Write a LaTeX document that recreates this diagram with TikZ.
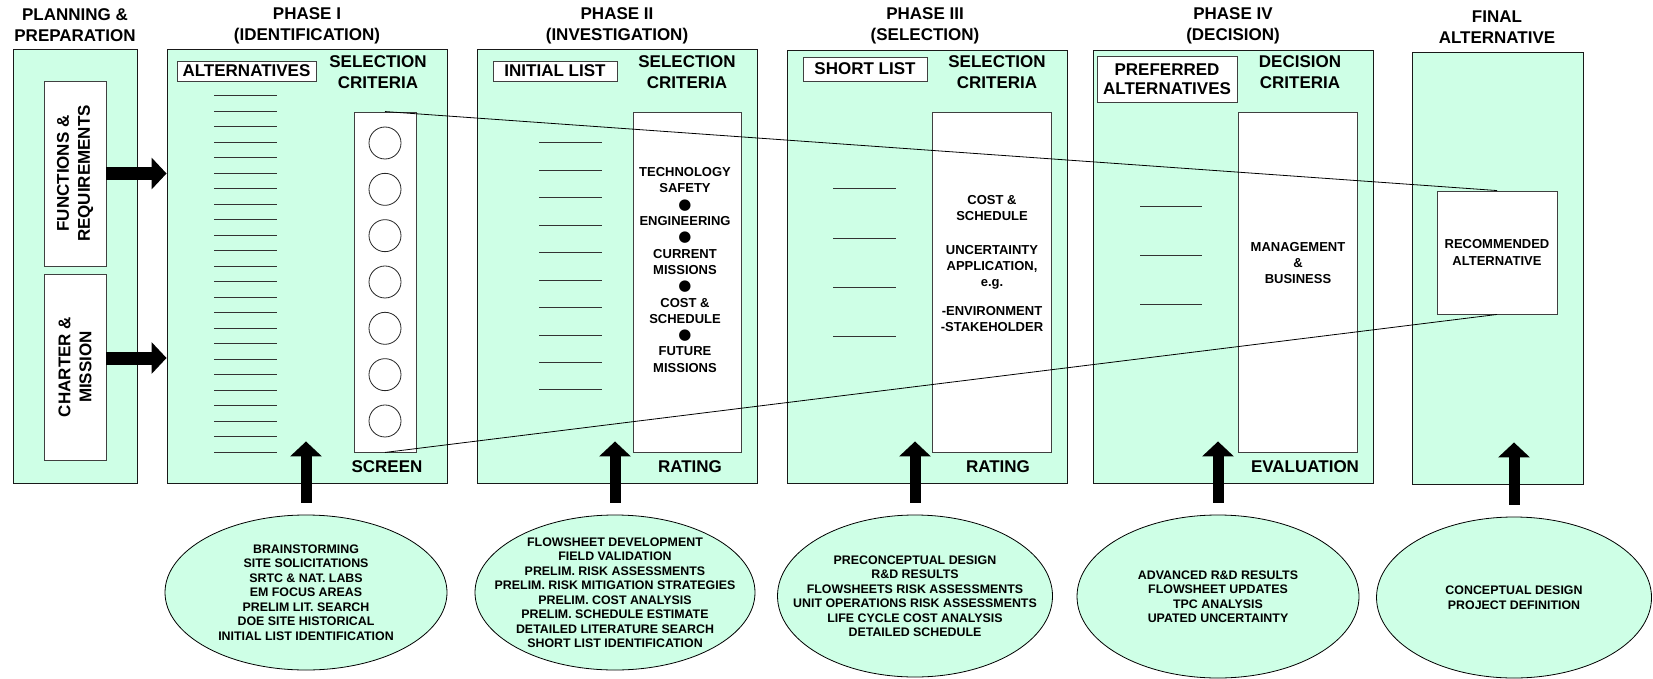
\documentclass[tikz,border=0pt]{standalone}
\usepackage{fontspec}
\setmainfont{Liberation Sans}
\newfontfamily\dotfont{DejaVu Sans}
\usetikzlibrary{shapes.geometric,arrows.meta,calc}
\definecolor{mint}{RGB}{206,255,230}

\begin{document}
\begin{tikzpicture}[x=1pt,y=-1pt,
    frame/.style={draw=black!90, line width=0.9pt, fill=mint, inner sep=0pt},
    card/.style={draw=black!75, line width=0.9pt, fill=white, inner sep=0pt},
    head/.style={font=\bfseries\fontsize{17}{21}\selectfont, align=center, inner sep=0pt},
    small/.style={font=\bfseries\fontsize{13}{16.3}\selectfont, align=center, inner sep=0pt},
    source/.style={ellipse, draw=black, line width=0.8pt, fill=mint, inner sep=0pt},
    srctext/.style={font=\bfseries\fontsize{12.4}{14.5}\selectfont, align=center, inner sep=0pt},
    entry/.style={line width=1pt, black!80},
    fatarrow/.style={line width=13pt, -{Triangle[width=31pt,length=15pt]}},
    liftarrow/.style={line width=11pt, -{Triangle[width=31pt,length=15pt]}}]
    \useasboundingbox (0,0) rectangle (1653,679);

    % phase frames
    \node[frame, minimum width=124pt, minimum height=434pt] (plan) at (75,266) {};
    \node[frame, minimum width=280pt, minimum height=434pt] (ph1) at (307,266) {};
    \node[frame, minimum width=280pt, minimum height=434pt] (ph2) at (617,266) {};
    \node[frame, minimum width=280pt, minimum height=433pt] (ph3) at (927,266.5) {};
    \node[frame, minimum width=280pt, minimum height=433pt] (ph4) at (1233,266.5) {};
    \node[frame, minimum width=171pt, minimum height=432pt] (fin) at (1497.5,268) {};

    \node[head] (t0) at (75,25.5) {PLANNING \&\\PREPARATION};
    \node[head] (t1) at (307,25.5) {PHASE I\\(IDENTIFICATION)};
    \node[head] (t2) at (617,25.5) {PHASE II\\(INVESTIGATION)};
    \node[head] (t3) at (925,25.5) {PHASE III\\(SELECTION)};
    \node[head] (t4) at (1233,25.5) {PHASE IV\\(DECISION)};
    \node[head] (t5) at (1497,27) {FINAL\\ALTERNATIVE};

    % planning inputs (rotated, so .south is the right side)
    \node[card, head, rotate=90, minimum width=185pt, minimum height=62pt] (fr) at (75,173.5) {FUNCTIONS \&\\REQUIREMENTS};
    \node[card, head, rotate=90, minimum width=186pt, minimum height=62pt] (cm) at (75,367) {CHARTER \&\\MISSION};

    % list labels
    \node[card, head, minimum width=139pt, minimum height=20pt] (alt) at (246.5,71) {ALTERNATIVES};
    \node[card, head, minimum width=124pt, minimum height=20pt] (ini) at (555,71) {INITIAL LIST};
    \node[card, head, minimum width=124pt, minimum height=24pt] (sho) at (865,69) {SHORT LIST};
    \node[card, head, minimum width=140pt, minimum height=46pt, font=\bfseries\fontsize{17}{19}\selectfont] (pre) at (1167,79) {PREFERRED\\ALTERNATIVES};

    \node[head] (sc1) at (378,72.5) {SELECTION\\CRITERIA};
    \node[head] (sc2) at (687,72.5) {SELECTION\\CRITERIA};
    \node[head] (sc3) at (997,72.5) {SELECTION\\CRITERIA};
    \node[head] (dc4) at (1300,72.5) {DECISION\\CRITERIA};

    % criteria cards
    \node[card, minimum width=62pt, minimum height=340pt] (crit1) at (385,282) {};
    \node[card, minimum width=108pt, minimum height=340pt] (crit2) at (687,282) {};
    \node[card, minimum width=119pt, minimum height=340pt] (crit3) at (991.5,282) {};
    \node[card, minimum width=119pt, minimum height=340pt] (crit4) at (1297.5,282) {};

    \foreach \k in {0,...,6}
        \draw[black!85, line width=0.8pt] (385,{143+46.33*\k}) circle (16pt);
    \foreach \k in {0,...,23}
        \draw[entry] (214,{96+15.48*\k}) -- (277,{96+15.48*\k});
    \foreach \k in {0,...,9}
        \draw[entry] (539,{143+27.44*\k}) -- (602,{143+27.44*\k});
    \foreach \k in {0,...,3}
        \draw[entry] (833,{189+49*\k}) -- (896,{189+49*\k});
    \foreach \k in {0,...,2}
        \draw[entry] (1140,{206+49*\k}) -- (1202,{206+49*\k});

    \node[small] (crt2) at (685,270) {TECHNOLOGY\\SAFETY\\{\dotfont\fontsize{15}{15}\selectfont ●}\\ENGINEERING\\{\dotfont\fontsize{15}{15}\selectfont ●}\\CURRENT\\MISSIONS\\{\dotfont\fontsize{15}{15}\selectfont ●}\\COST \&\\SCHEDULE\\{\dotfont\fontsize{15}{15}\selectfont ●}\\FUTURE\\MISSIONS};
    \node[small] (crt3) at (992,263.5) {COST \&\\SCHEDULE\\[17pt]UNCERTAINTY\\APPLICATION,\\e.g.\\[12pt]-ENVIRONMENT\\-STAKEHOLDER};
    \node[small, font=\bfseries\fontsize{13}{16}\selectfont] (crt4) at (1298,263) {MANAGEMENT\\\&\\BUSINESS};

    \node[head] (scr) at (387,467) {SCREEN};
    \node[head] (rat2) at (690,467) {RATING};
    \node[head] (rat3) at (998,467) {RATING};
    \node[head] (eva) at (1305,467) {EVALUATION};

    \node[card, minimum width=120pt, minimum height=123pt, small, font=\bfseries\fontsize{13}{17}\selectfont] (rec) at (1497,252.5) {RECOMMENDED\\ALTERNATIVE};

    % funnel
    \draw[line width=0.8pt] (crit1.north) -- (rec.north);
    \draw[line width=0.8pt] (crit1.south) -- (rec.south);

    % sources
    \node[source, minimum width=282pt, minimum height=155pt] (src1) at (306,592.5) {};
    \node[source, minimum width=280pt, minimum height=155pt] (src2) at (615,592.5) {};
    \node[source, minimum width=275pt, minimum height=162pt] (src3) at (915,596) {};
    \node[source, minimum width=282pt, minimum height=163pt] (src4) at (1218,596.5) {};
    \node[source, minimum width=275pt, minimum height=161pt] (src5) at (1514,597.5) {};

    \node[srctext] (lst1) at (src1) {BRAINSTORMING\\SITE SOLICITATIONS\\SRTC \& NAT. LABS\\EM FOCUS AREAS\\PRELIM LIT. SEARCH\\DOE SITE HISTORICAL\\INITIAL LIST IDENTIFICATION};
    \node[srctext] (lst2) at (src2) {FLOWSHEET DEVELOPMENT\\FIELD VALIDATION\\PRELIM. RISK ASSESSMENTS\\PRELIM. RISK MITIGATION STRATEGIES\\PRELIM. COST ANALYSIS\\PRELIM. SCHEDULE ESTIMATE\\DETAILED LITERATURE SEARCH\\SHORT LIST IDENTIFICATION};
    \node[srctext] (lst3) at (src3) {PRECONCEPTUAL DESIGN\\R\&D RESULTS\\FLOWSHEETS RISK ASSESSMENTS\\UNIT OPERATIONS RISK ASSESSMENTS\\LIFE CYCLE COST ANALYSIS\\DETAILED SCHEDULE};
    \node[srctext] (lst4) at (src4) {ADVANCED R\&D RESULTS\\FLOWSHEET UPDATES\\TPC ANALYSIS\\UPATED UNCERTAINTY};
    \node[srctext] (lst5) at (src5) {CONCEPTUAL DESIGN\\PROJECT DEFINITION};

    % arrows
    \draw[fatarrow] (fr.south) -- (fr.south -| ph1.west);
    \draw[fatarrow] ([yshift=9pt]cm.south) -- ([yshift=9pt]cm.south -| ph1.west);
    \draw[liftarrow] ([yshift=12pt]src1.north) -- ($(src1.north |- ph1.south)+(0,-42)$);
    \draw[liftarrow] ([yshift=12pt]src2.north) -- ($(src2.north |- ph2.south)+(0,-42)$);
    \draw[liftarrow] ([yshift=12pt]src3.north) -- ($(src3.north |- ph3.south)+(0,-42)$);
    \draw[liftarrow] ([yshift=12pt]src4.north) -- ($(src4.north |- ph4.south)+(0,-42)$);
    \draw[liftarrow] ([yshift=12pt]src5.north) -- ($(src5.north |- fin.south)+(0,-42)$);
\end{tikzpicture}
\end{document}
